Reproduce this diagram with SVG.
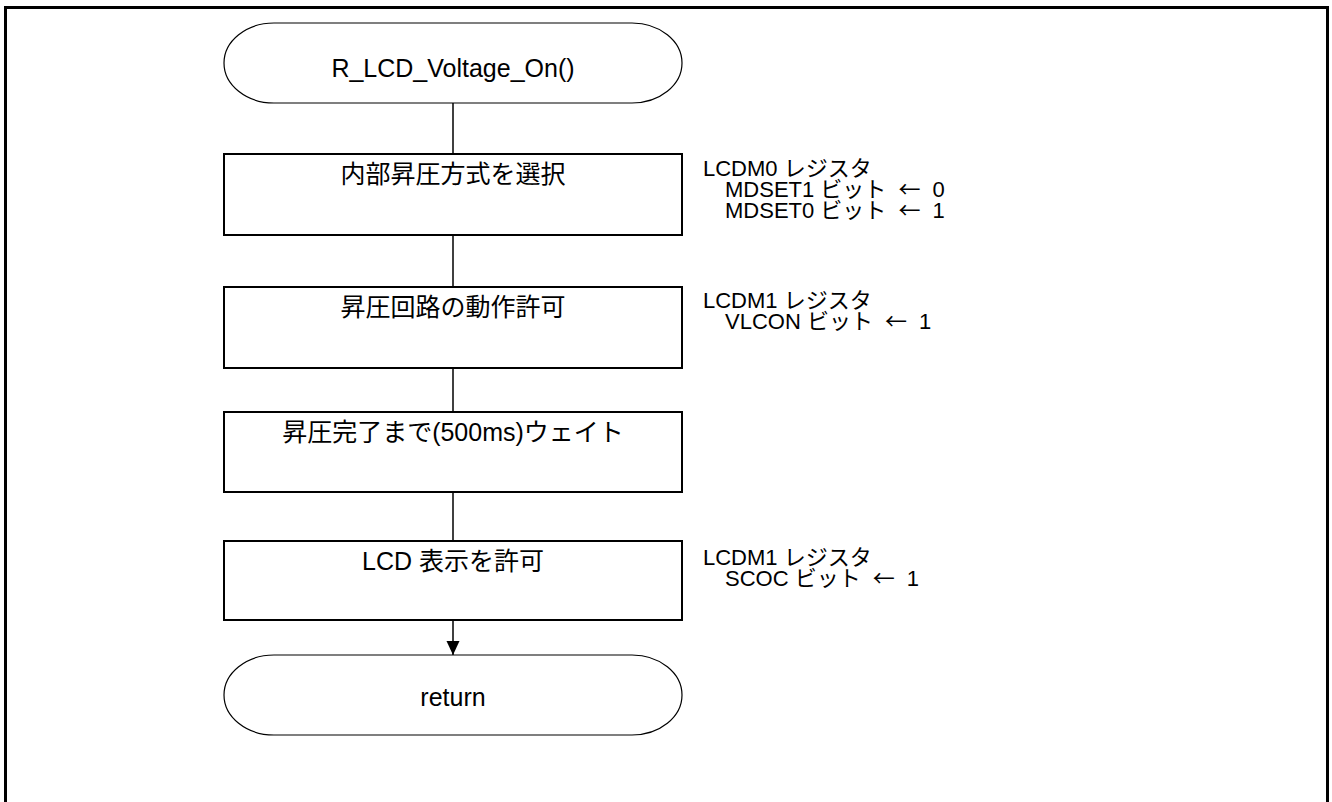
<svg xmlns="http://www.w3.org/2000/svg" width="1332" height="802" viewBox="0 0 1332 802">
<style>
.frame{fill:none;stroke:#000;stroke-width:3}
.box{fill:#fff;stroke:#000;stroke-width:2}
.term{fill:#fff;stroke:#000;stroke-width:1.2}
.t{font-family:"Liberation Sans","Noto Sans CJK JP",sans-serif;font-size:25px;fill:#000}
.n{font-family:"Liberation Sans","Noto Sans CJK JP",sans-serif;font-size:22px;fill:#000}
.j{font-family:"Noto Sans CJK JP",sans-serif}
.c{text-anchor:middle}
.ln{stroke:#000;stroke-width:1.5;fill:none}
</style>
<defs>
<marker id="ah" markerWidth="14" markerHeight="14" refX="14" refY="7" orient="auto" markerUnits="userSpaceOnUse">
<path d="M0,0.5 L14,7 L0,13.5 Z" fill="#000"/>
</marker>
</defs>
<rect width="1332" height="802" fill="#fff"/>
<path class="frame" d="M5.5,802 V7.5 H1327.5 V802"/>
<g id="connectors">
<line class="ln" x1="453" y1="103" x2="453" y2="154"/>
<line class="ln" x1="453" y1="235" x2="453" y2="287"/>
<line class="ln" x1="453" y1="368" x2="453" y2="412"/>
<line class="ln" x1="453" y1="492" x2="453" y2="541"/>
<line class="ln" x1="453" y1="620" x2="453" y2="655" marker-end="url(#ah)"/>
</g>
<g id="start">
<rect class="term" x="224" y="23" width="458" height="80" rx="50" ry="40"/>
<text class="t c" x="453" y="77">R_LCD_Voltage_On()</text>
</g>
<g id="step1">
<rect class="box" x="224" y="154" width="458" height="81"/>
<text class="t c" x="453" y="183">内部昇圧方式を選択</text>
</g>
<g id="note1">
<text class="n" x="703" y="176">LCDM0 レジスタ</text>
<text class="n" x="725" y="197">MDSET1 ビット <tspan class="j" dx="6">←</tspan><tspan dx="12">0</tspan></text>
<text class="n" x="725" y="218">MDSET0 ビット <tspan class="j" dx="6">←</tspan><tspan dx="12">1</tspan></text>
</g>
<g id="step2">
<rect class="box" x="224" y="287" width="458" height="81"/>
<text class="t c" x="453" y="316">昇圧回路の動作許可</text>
</g>
<g id="note2">
<text class="n" x="703" y="308">LCDM1 レジスタ</text>
<text class="n" x="725" y="329">VLCON ビット <tspan class="j" dx="6">←</tspan><tspan dx="12">1</tspan></text>
</g>
<g id="step3">
<rect class="box" x="224" y="412" width="458" height="80"/>
<text class="t c" x="453" y="441">昇圧完了まで(500ms)ウェイト</text>
</g>
<g id="step4">
<rect class="box" x="224" y="541" width="458" height="79"/>
<text class="t c" x="453" y="570">LCD 表示を許可</text>
</g>
<g id="note4">
<text class="n" x="703" y="565">LCDM1 レジスタ</text>
<text class="n" x="725" y="586">SCOC ビット <tspan class="j" dx="6">←</tspan><tspan dx="12">1</tspan></text>
</g>
<g id="end">
<rect class="term" x="224" y="655" width="458" height="80" rx="50" ry="40"/>
<text class="t c" x="453" y="706">return</text>
</g>
</svg>
